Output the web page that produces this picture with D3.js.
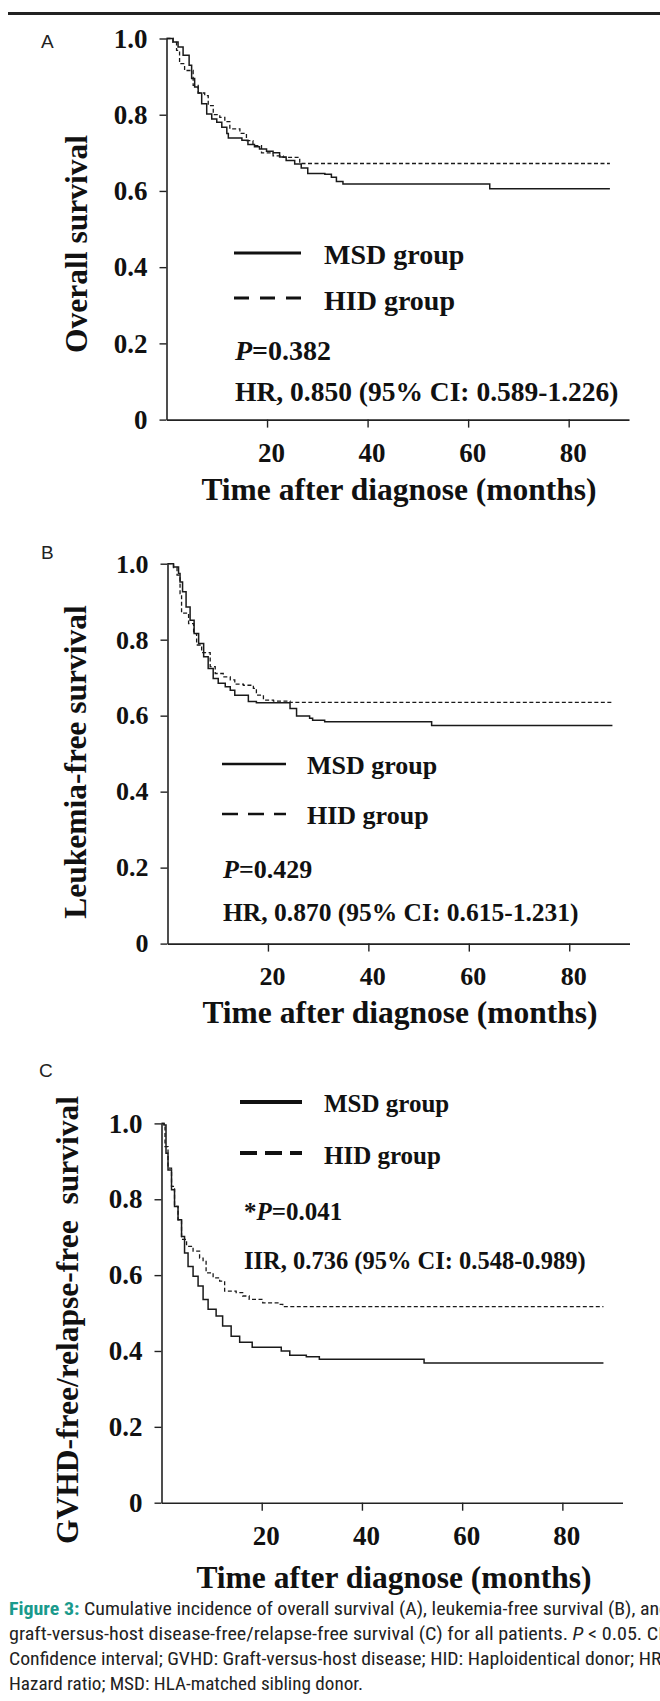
<!DOCTYPE html>
<html>
<head>
<meta charset="utf-8">
<script src="https://cdn.jsdelivr.net/npm/d3@7"></script>
<style>
  body { margin: 0; background: #fff; }
  svg { display: block; }
  .serif { font-family: "Liberation Serif", "Times New Roman", serif; font-weight: bold; fill: #111; }
  .cap { font-family: "Liberation Sans Narrow", "Roboto Condensed", "Roboto", "Liberation Sans", sans-serif; fill: #222; }
</style>
</head>
<body>
<div id="fig"></div>
<script>
// ---- data ----
var panelLetters = ["A", "B", "C"];
var yTitles = ["Overall survival", "Leukemia-free survival", "GVHD-free/relapse-free  survival"];
var xTitle = "Time after diagnose (months)";
var xTicks = [20, 40, 60, 80];
var yTicks = [0, 0.2, 0.4, 0.6, 0.8, 1.0];
var yTickLabels = ["0", "0.2", "0.4", "0.6", "0.8", "1.0"];
var groupNames = ["MSD group", "HID group"];
var pPrefix = ["", "", "*"];
var pValues = ["=0.382", "=0.429", "=0.041"];
var hrTexts = ["HR, 0.850 (95% CI: 0.589-1.226)", "HR, 0.870 (95% CI: 0.615-1.231)", "IIR, 0.736 (95% CI: 0.548-0.989)"];

// overall survival (A)
var osMsdTime = [0, 1.3, 2.3, 3.3, 4.5, 5.0, 5.6, 6.3, 7.0, 8.0, 9.0, 10.0, 11.0, 12.0, 12.3, 15.0, 16.2, 17.5, 18.5, 19.9, 21.2, 22.5, 23.8, 25.5, 26.8, 28.1, 31.5, 32.8, 33.8, 35.1, 64.3, 88.2];
var osMsdSurv = [1.0, 0.991, 0.978, 0.956, 0.93, 0.895, 0.873, 0.857, 0.829, 0.802, 0.789, 0.78, 0.767, 0.751, 0.739, 0.733, 0.722, 0.716, 0.71, 0.704, 0.70, 0.689, 0.68, 0.671, 0.66, 0.646, 0.644, 0.636, 0.625, 0.618, 0.606, 0.606];
var osHidTime = [0, 1.3, 2.0, 2.6, 3.6, 5.3, 6.3, 7.6, 8.3, 9.3, 10.6, 11.6, 12.6, 14.6, 15.9, 17.2, 18.9, 21.2, 23.2, 26.5, 88.2];
var osHidSurv = [1.0, 0.99, 0.969, 0.934, 0.916, 0.877, 0.857, 0.85, 0.824, 0.80, 0.793, 0.782, 0.763, 0.751, 0.732, 0.719, 0.70, 0.692, 0.688, 0.672, 0.672];

// leukemia-free survival (B)
var lfsMsdTime = [0, 1.2, 2.2, 2.5, 3.0, 3.7, 4.5, 5.3, 6.2, 7.2, 8.1, 9.1, 10.1, 11.5, 12.5, 13.4, 16.1, 17.7, 24.4, 25.7, 28.3, 28.9, 31.3, 52.6, 88.6];
var lfsMsdSurv = [1.0, 0.991, 0.974, 0.952, 0.926, 0.886, 0.851, 0.816, 0.79, 0.755, 0.724, 0.698, 0.685, 0.676, 0.667, 0.654, 0.637, 0.634, 0.619, 0.599, 0.593, 0.588, 0.584, 0.574, 0.574];
var lfsHidTime = [0, 1.2, 1.9, 2.5, 2.8, 4.2, 5.2, 5.8, 6.8, 8.5, 9.5, 11.1, 12.5, 13.4, 15.1, 17.1, 17.7, 19.1, 21.1, 24.4, 88.6];
var lfsHidSurv = [1.0, 0.99, 0.97, 0.921, 0.87, 0.842, 0.816, 0.786, 0.766, 0.729, 0.711, 0.702, 0.694, 0.683, 0.68, 0.672, 0.654, 0.641, 0.638, 0.635, 0.635];

// GVHD-free/relapse-free survival (C)
var grfsMsdTime = [0, 0.5, 0.9, 1.3, 2.0, 2.6, 3.3, 4.0, 4.6, 5.3, 6.3, 7.3, 8.3, 9.3, 10.9, 12.2, 13.9, 15.6, 18.1, 23.9, 25.6, 28.9, 31.5, 52.4, 88.2];
var grfsMsdSurv = [1.0, 0.996, 0.921, 0.877, 0.825, 0.781, 0.746, 0.702, 0.658, 0.623, 0.597, 0.571, 0.536, 0.51, 0.492, 0.466, 0.439, 0.423, 0.41, 0.40, 0.389, 0.385, 0.378, 0.368, 0.368];
var grfsHidTime = [0, 0.5, 0.7, 1.3, 2.0, 2.6, 3.3, 4.0, 5.0, 6.3, 7.6, 8.3, 8.9, 10.3, 11.6, 12.6, 14.9, 16.2, 17.5, 20.2, 23.5, 24.2, 88.2];
var grfsHidSurv = [1.0, 0.996, 0.939, 0.882, 0.834, 0.781, 0.746, 0.694, 0.676, 0.663, 0.645, 0.636, 0.606, 0.593, 0.584, 0.558, 0.554, 0.545, 0.536, 0.527, 0.523, 0.517, 0.517];

var captionLines = [
  [{t: "Figure 3:", c: "fig"}, {t: " Cumulative incidence of overall survival (A), leukemia-free survival (B), and"}],
  [{t: "graft-versus-host disease-free/relapse-free survival (C) for all patients. "}, {t: "P", c: "it"}, {t: " < 0.05. CI:"}],
  [{t: "Confidence interval; GVHD: Graft-versus-host disease; HID: Haploidentical donor; HR:"}],
  [{t: "Hazard ratio; MSD: HLA-matched sibling donor."}]
];

// ---- layout (pixels) ----
var layout = [
  {left: 166.5, right: 629, top: 38.5, bottom: 419.6, letter: [41, 41], ylab: [76, 244], xlab: [399, 489],
   tickFs: 27, legFs: 28, lx: [234, 301], lw: 3, dash: "15,11", ly: [253, 298], tx: 324, ty: [254, 300],
   px: 235, py: 350, hy: 391},
  {left: 167.5, right: 629.5, top: 563.7, bottom: 943.6, letter: [41, 552], ylab: [75, 762], xlab: [400, 1012],
   tickFs: 26, legFs: 26, lx: [222, 286], lw: 2.5, dash: "16,10", ly: [764, 814], tx: 307, ty: [765, 815],
   px: 223, py: 869, hy: 912},
  {left: 161.5, right: 622.5, top: 1123.4, bottom: 1502.7, letter: [39, 1070], ylab: [67, 1320], xlab: [394, 1577],
   tickFs: 27, legFs: 25, lx: [240, 302], lw: 4, dash: "17,8", ly: [1102, 1153], tx: 324, ty: [1103, 1155],
   px: 244, py: 1211, hy: 1260}
];

var series = [
  [[osMsdTime, osMsdSurv], [osHidTime, osHidSurv]],
  [[lfsMsdTime, lfsMsdSurv], [lfsHidTime, lfsHidSurv]],
  [[grfsMsdTime, grfsMsdSurv], [grfsHidTime, grfsHidSurv]]
];

var svg = d3.select("#fig").append("svg")
  .attr("width", 660)
  .attr("height", 1701);

// rule at top
svg.append("line")
  .attr("x1", 8).attr("x2", 660).attr("y1", 13.5).attr("y2", 13.5)
  .attr("stroke", "#222").attr("stroke-width", 3);

function drawPanel(i) {
  var L = layout[i];
  var g = svg.append("g");

  var x = d3.scaleLinear().domain([0, 92]).range([L.left, L.right]);
  var y = d3.scaleLinear().domain([0, 1]).range([L.bottom, L.top]);

  g.append("text")
    .attr("x", L.letter[0]).attr("y", L.letter[1]).attr("dy", "0.35em")
    .style("font-family", "'Liberation Sans', Arial, sans-serif")
    .style("font-size", "19px").style("fill", "#222")
    .text(panelLetters[i]);

  var xAxis = g.append("g")
    .attr("transform", "translate(0," + L.bottom + ")")
    .call(d3.axisBottom(x).tickValues(xTicks).tickSize(8).tickSizeOuter(0).tickPadding(15).tickFormat(d3.format("d")));
  var yAxis = g.append("g")
    .attr("transform", "translate(" + L.left + ",0)")
    .call(d3.axisLeft(y).tickValues(yTicks).tickSize(7).tickSizeOuter(0).tickPadding(12)
      .tickFormat(function(d, k) { return yTickLabels[k]; }));

  [xAxis, yAxis].forEach(function(a) {
    a.attr("font-family", null).attr("font-size", null);
    a.select(".domain").attr("stroke", "#222").attr("stroke-width", 1.6);
    a.selectAll(".tick line").attr("stroke", "#222").attr("stroke-width", 1.4);
    a.selectAll(".tick text").attr("class", "serif").style("font-size", L.tickFs + "px").attr("fill", "#111");
  });
  xAxis.selectAll(".tick text").attr("dx", 4);

  g.append("text")
    .attr("class", "serif")
    .attr("transform", "translate(" + L.ylab[0] + "," + L.ylab[1] + ") rotate(-90)")
    .attr("text-anchor", "middle").attr("dy", "0.35em")
    .style("font-size", "31.5px").style("white-space", "pre")
    .text(yTitles[i]);

  g.append("text")
    .attr("class", "serif")
    .attr("x", L.xlab[0]).attr("y", L.xlab[1])
    .attr("text-anchor", "middle").attr("dy", "0.35em")
    .style("font-size", "31.5px")
    .text(xTitle);

  var line = d3.line()
    .x(function(d) { return x(d[0]); })
    .y(function(d) { return y(d[1]); })
    .curve(d3.curveStepAfter);

  series[i].forEach(function(s, k) {
    var pts = s[0].map(function(t, j) { return [t, s[1][j]]; });
    g.append("path")
      .attr("d", line(pts))
      .attr("fill", "none")
      .attr("stroke", "#1a1a1a")
      .attr("stroke-width", k === 0 ? 1.5 : 1.3)
      .attr("stroke-dasharray", k === 0 ? null : "4,2.5");
  });

  // legend
  groupNames.forEach(function(name, k) {
    g.append("line")
      .attr("x1", L.lx[0]).attr("x2", L.lx[1])
      .attr("y1", L.ly[k]).attr("y2", L.ly[k])
      .attr("stroke", "#111").attr("stroke-width", L.lw)
      .attr("stroke-dasharray", k === 0 ? null : L.dash);
    g.append("text")
      .attr("class", "serif")
      .attr("x", L.tx).attr("y", L.ty[k]).attr("dy", "0.35em")
      .style("font-size", L.legFs + "px")
      .text(name);
  });

  var pt = g.append("text")
    .attr("class", "serif")
    .attr("x", L.px).attr("y", L.py).attr("dy", "0.35em")
    .style("font-size", L.legFs + "px");
  pt.append("tspan").text(pPrefix[i]);
  pt.append("tspan").style("font-style", "italic").text("P");
  pt.append("tspan").text(pValues[i]);

  g.append("text")
    .attr("class", "serif")
    .attr("x", L.px).attr("y", L.hy).attr("dy", "0.35em")
    .style("font-size", (L.legFs - 0.5) + "px")
    .text(hrTexts[i]);
}

for (var i = 0; i < 3; i++) drawPanel(i);

// caption
var capY = [1609, 1634, 1659, 1684];
var capLen = [660, 659, 657, 354];
captionLines.forEach(function(parts, k) {
  var t = svg.append("text")
    .attr("class", "cap")
    .attr("x", 9).attr("y", capY[k]).attr("dy", "0.35em")
    .attr("textLength", capLen[k]).attr("lengthAdjust", "spacingAndGlyphs")
    .style("font-size", "18px");
  parts.forEach(function(p) {
    var s = t.append("tspan").text(p.t);
    if (p.c === "fig") s.style("fill", "#1a9a8c").style("font-weight", "bold");
    if (p.c === "it") s.style("font-style", "italic");
  });
});
</script>
</body>
</html>
